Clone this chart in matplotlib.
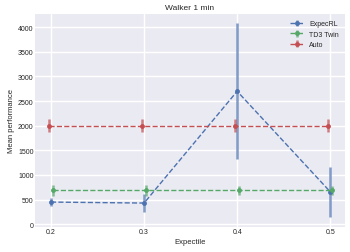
import matplotlib
matplotlib.use("Agg")
import matplotlib.pyplot as plt
import numpy as np

plt.style.use("seaborn-v0_8")

expectiles = [0.2, 0.3, 0.4, 0.5]
expecrl_mean = [450, 430, 2700, 660]
expecrl_err = [80, 180, 1380, 510]
td3_mean = [690, 690, 690, 690]
td3_err = [110, 110, 90, 90]
auto_mean = [2000, 2000, 2000, 2000]
auto_err = [130, 130, 130, 130]
xticks = [0.2, 0.3, 0.4, 0.5]

fig, ax = plt.subplots(figsize=(3.5, 2.53), dpi=100)
x = np.array(expectiles)
ax.errorbar(x, expecrl_mean, yerr=expecrl_err, fmt="o--", color="#4C72B0",
            ms=3.5, lw=1, elinewidth=1.8, ecolor=(0.30, 0.45, 0.69, 0.7), label="ExpecRL")
ax.errorbar(x + 0.002, td3_mean, yerr=td3_err, fmt="o--", color="#55A868",
            ms=3.5, lw=1, elinewidth=1.8, ecolor=(0.33, 0.66, 0.41, 0.7), label="TD3 Twin")
ax.errorbar(x - 0.002, auto_mean, yerr=auto_err, fmt="o--", color="#C44E52",
            ms=3.5, lw=1, elinewidth=1.8, ecolor=(0.77, 0.31, 0.32, 0.7), label="Auto")

ax.set_xticks(xticks)
ax.set_xticklabels([str(t) for t in xticks])
ax.set_yticks(range(0, 4001, 500))
ax.set_ylim(-50, 4265)
ax.set_xlim(0.1828, 0.516)
ax.tick_params(labelsize=5, pad=1)
ax.set_xlabel("Expectile", fontsize=5.5, labelpad=2)
ax.set_ylabel("Mean performance", fontsize=5.5, labelpad=2)
ax.set_title("Walker 1 min", fontsize=6, pad=4)
ax.legend(fontsize=5, loc="upper right")
fig.subplots_adjust(left=0.1, right=0.986, top=0.94, bottom=0.10)
fig.savefig("out.png", dpi=100)
